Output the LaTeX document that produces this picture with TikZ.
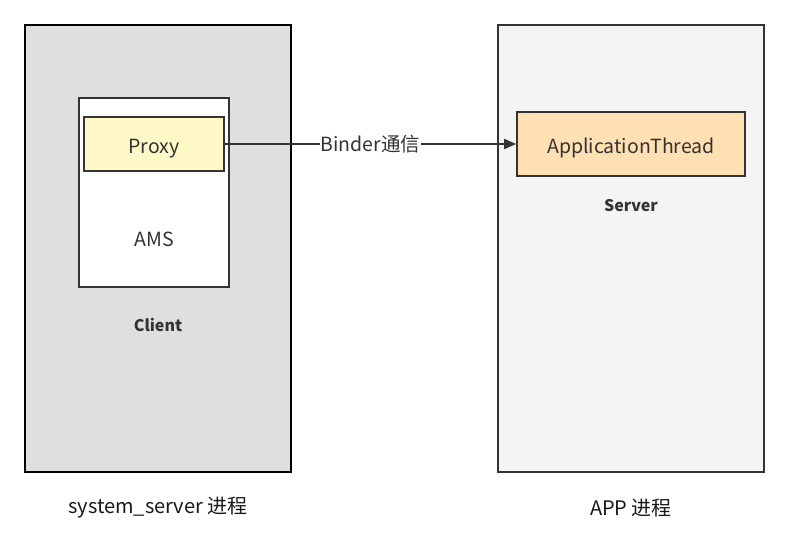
\documentclass[tikz,border=0pt]{standalone}
\usepackage{fontspec}
\setmainfont{Noto Sans CJK SC}
\usetikzlibrary{arrows.meta}
\definecolor{clientgray}{RGB}{223, 223, 223}
\definecolor{servergray}{RGB}{244, 244, 244}
\definecolor{proxyyellow}{RGB}{255, 249, 199}
\definecolor{threadorange}{RGB}{255, 224, 178}
\definecolor{edgegray}{RGB}{51, 51, 51}

\tikzset{
	box/.style={draw=edgegray, line width=1.6pt, inner sep=0pt, text=edgegray, text height=18pt, text depth=0pt, font=\fontsize{19.5}{22}\selectfont},
	tag/.style={text=edgegray, font=\fontsize{16}{19}\selectfont\bfseries},
	caption/.style={text=black!90, font=\fontsize{20}{24}\selectfont}
}

\begin{document}
\begin{tikzpicture}[x=1pt, y=-1pt]
			\useasboundingbox (0, 0) rectangle (789, 554);
			% two processes
			\node [box, draw=black, fill=clientgray, minimum width=266pt, minimum height=447pt] (client) at (158, 248.5) {};
			\node [box, fill=servergray, minimum width=266pt, minimum height=447pt] (server) at (631, 248.5) {};
			% inside system_server
			\node [box, fill=white, minimum width=150pt, minimum height=189pt] (ams) at (154, 192.5) {};
			\node [box, fill=proxyyellow, minimum width=140pt, minimum height=54pt] (proxy) at (154, 144) {Proxy};
			\node [text=edgegray, font=\fontsize{19.5}{22}\selectfont] (amstext) at (154, 239) {AMS};
			\node [tag] (clienttext) at (158, 325) {Client};
			% inside APP
			\node [box, fill=threadorange, minimum width=228pt, minimum height=64pt] (thread) at (631, 144) {ApplicationThread};
			\node [tag] (servertext) at (631, 206) {Server};
			% binder call
			\draw [edgegray, line width=1.6pt, -{Triangle[length=12pt, width=10pt]}] (proxy) -- node[fill=white, inner sep=1pt, text=edgegray, font=\fontsize{19.5}{22}\selectfont]{Binder通信} (thread);
			% captions
			\node [caption] (systemtext) at (158, 508) {system\_server 进程};
			\node [caption] (apptext) at (631, 508) {APP 进程};
		\end{tikzpicture}
\end{document}
